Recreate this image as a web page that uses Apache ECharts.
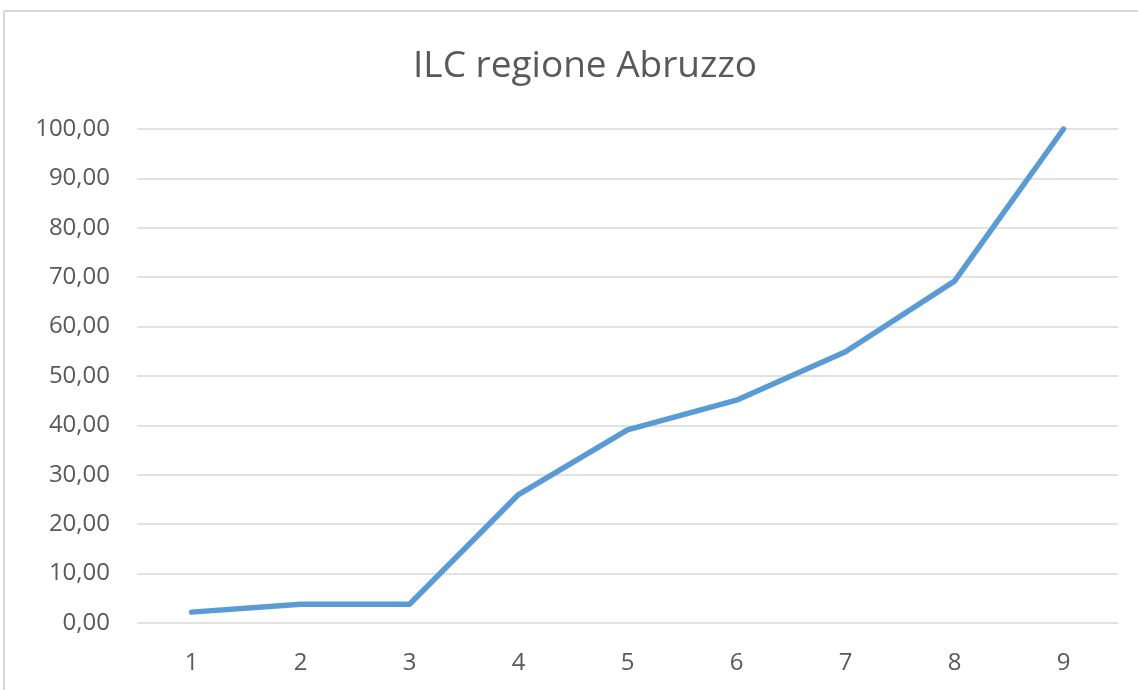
<!DOCTYPE html>
<html>
<head>
<meta charset="utf-8">
<script src="https://cdn.jsdelivr.net/npm/echarts@6/dist/echarts.min.js"></script>
<style>
  html, body { margin: 0; padding: 0; background: #fff; }
  #chart { width: 1138px; height: 690px; }
</style>
</head>
<body>
<div id="chart"></div>
<script>
// ILC index for the Abruzzo region, by step
const categories = ['1', '2', '3', '4', '5', '6', '7', '8', '9'];
const ilcValues = [2.2, 3.8, 3.8, 26.0, 39.1, 45.1, 54.9, 69.2, 100.0];
const titleText = 'ILC regione Abruzzo';

const textColor = '#595959';
const fontFamily = '"Open Sans", "Liberation Sans", sans-serif';

const chart = echarts.init(document.getElementById('chart'), null, { renderer: 'canvas' });

chart.setOption({
  backgroundColor: '#ffffff',
  animation: false,
  title: {
    text: titleText,
    left: 580,
    top: 43,
    textAlign: 'center',
    textStyle: { color: textColor, fontFamily: fontFamily, fontWeight: 'normal', fontSize: 37 }
  },
  graphic: [
    { type: 'line', shape: { x1: 4, y1: 11, x2: 1138, y2: 11 }, style: { stroke: '#d9d9d9', lineWidth: 2 } },
    { type: 'line', shape: { x1: 4, y1: 11, x2: 4, y2: 690 }, style: { stroke: '#d9d9d9', lineWidth: 2 } }
  ],
  grid: { left: 137, right: 20, top: 129, bottom: 67, containLabel: false },
  xAxis: {
    type: 'category',
    data: categories,
    boundaryGap: true,
    axisLine: { show: false },
    axisTick: { show: false },
    axisLabel: { color: textColor, fontFamily: fontFamily, fontSize: 24, margin: 28 }
  },
  yAxis: {
    type: 'value',
    min: 0,
    max: 100,
    interval: 10,
    axisLine: { show: false },
    axisTick: { show: false },
    splitLine: { lineStyle: { color: '#d9d9d9', width: 1.5 } },
    axisLabel: {
      color: textColor, fontFamily: fontFamily, fontSize: 24, margin: 27,
      formatter: v => v.toFixed(2).replace('.', ',')
    }
  },
  series: [{
    type: 'line',
    data: ilcValues,
    showSymbol: false,
    symbol: 'none',
    lineStyle: { color: '#5b9bd5', width: 5.5, cap: 'round', join: 'round' },
    itemStyle: { color: '#5b9bd5' }
  }]
});
</script>
</body>
</html>
